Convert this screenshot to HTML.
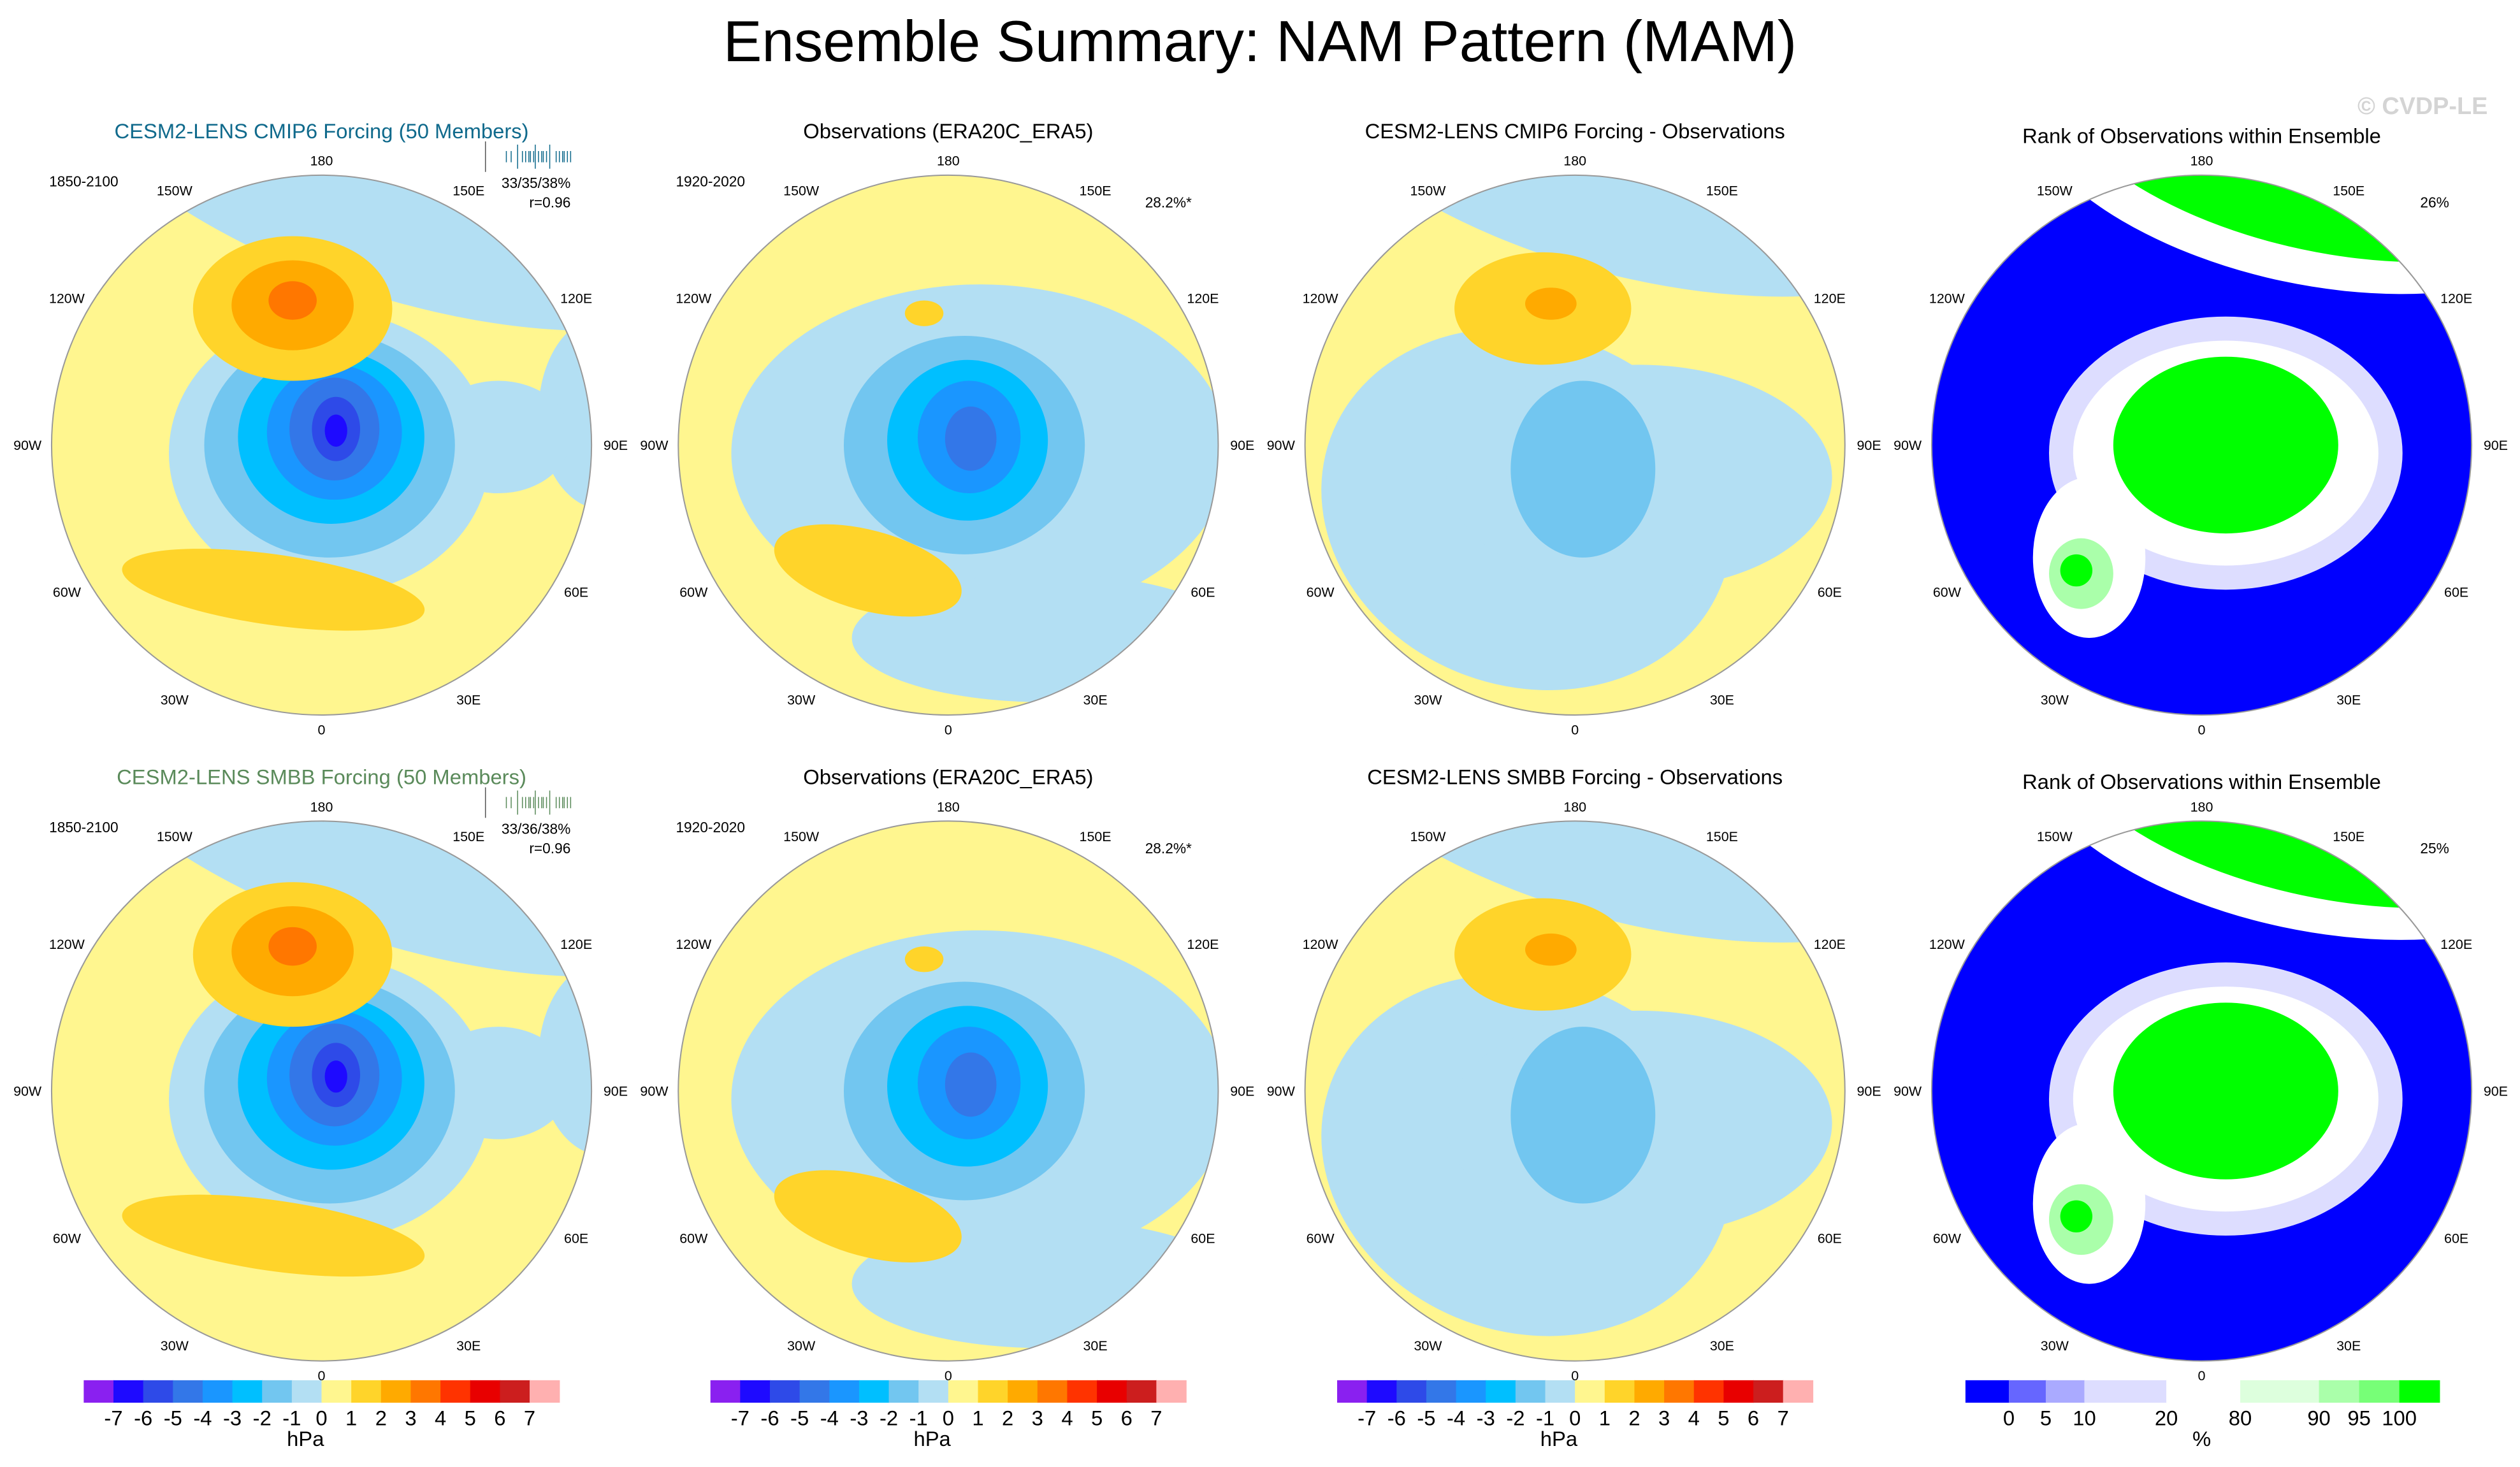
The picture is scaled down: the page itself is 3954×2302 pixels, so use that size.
<!DOCTYPE html>
<html><head><meta charset="utf-8"><style>
html,body{margin:0;padding:0;background:#fff}
svg{display:block}
text{font-family:"Liberation Sans",sans-serif}
</style></head><body>
<svg id="fig" width="3954" height="2302" viewBox="0 0 1568 913" xmlns="http://www.w3.org/2000/svg">
<rect width="1568" height="913" fill="#fff"/>
<text x="784" y="38" font-size="36" text-anchor="middle">Ensemble Summary: NAM Pattern (MAM)</text>
<text x="1548" y="71" font-size="15" font-weight="bold" fill="#d4d4d4" text-anchor="end">© CVDP-LE</text>
<g id="panels"></g>
</svg>
<script>
const hpaLevels = [-7,-6,-5,-4,-3,-2,-1,0,1,2,3,4,5,6,7];
const hpaColors = ["#8a20f0","#1e0aff","#2e4ae8","#3377e8","#1a96ff","#00bfff","#72c6f0","#b3dff3","#fff68f","#ffd42a","#ffaa00","#ff7700","#ff3300","#e80000","#cc1e1e","#ffb0b0"];
const rankLabels = ["0","5","10","20","80","90","95","100"];
const rankColors = ["#0000ff","#6666ff","#aaaaff","#ddddff","#ffffff","#ddffdd","#aaffaa","#77ff77","#00ff00"];
const rankBoxW = [27,23,24,51,46,49,25,25,25];
const colX = [200,590,980,1370];
const rowY = [277,679];
const R = 168;
const lonLabels = [["180",0],["150E",30],["120E",60],["90E",90],["60E",120],["30E",150],["0",180],["30W",210],["60W",240],["90W",270],["120W",300],["150W",330]];
const Y="#fff68f",LB="#b3dff3";
const modelBlobs = [
 [60,-205,250,115,18,LB],[175,-20,40,60,0,LB],
 [5,5,100,88,0,LB],[110,-5,45,35,0,LB],
 [5,0,78,70,0,"#72c6f0"],[6,-5,58,54,0,"#00bfff"],[8,-8,42,42,0,"#1a96ff"],
 [8,-10,28,32,0,"#3377e8"],[9,-10,15,20,0,"#2e4ae8"],[9,-9,7,10,0,"#1e0aff"],
 [-18,-85,62,45,0,"#ffd42a"],[-18,-87,38,28,0,"#ffaa00"],[-18,-90,15,12,0,"#ff7700"],
 [-30,90,95,22,8,"#ffd42a"]
];
const obsBlobs = [
 [20,5,155,105,0,LB],[60,120,120,40,0,LB],
 [10,0,75,68,0,"#72c6f0"],[12,-3,50,50,0,"#00bfff"],[13,-5,32,35,0,"#1a96ff"],[14,-4,16,20,0,"#3377e8"],
 [-15,-82,12,8,0,"#ffd42a"],[-50,78,60,25,15,"#ffd42a"]
];
const diffBlobs = [
 [40,-210,230,105,15,LB],[-30,40,130,110,20,LB],[40,20,120,70,0,LB],
 [5,15,45,55,0,"#72c6f0"],
 [-20,-85,55,35,0,"#ffd42a"],[-15,-88,16,10,0,"#ffaa00"]
];
const rankBlobs = [
 [70,-195,190,95,12,"#ffffff"],[80,-205,180,85,12,"#00ff00"],
 [15,5,110,85,0,"#ddddff"],[15,5,95,70,0,"#ffffff"],[15,0,70,55,0,"#00ff00"],
 [-70,70,35,50,0,"#ffffff"],[-75,80,20,22,0,"#aaffaa"],[-78,78,10,10,0,"#00ff00"]
];
const panels = [
 {c:0,r:0,title:"CESM2-LENS CMIP6 Forcing (50 Members)",tc:"#106a8c",blobs:modelBlobs,bg:Y,left:"1850-2100",pct:"33/35/38%",rr:"r=0.96",bars:true},
 {c:1,r:0,title:"Observations (ERA20C_ERA5)",tc:"#000",blobs:obsBlobs,bg:Y,left:"1920-2020",rt:"28.2%*"},
 {c:2,r:0,title:"CESM2-LENS CMIP6 Forcing - Observations",tc:"#000",blobs:diffBlobs,bg:Y},
 {c:3,r:0,title:"Rank of Observations within Ensemble",tc:"#000",blobs:rankBlobs,bg:"#0000ff",rt:"26%",rank:true},
 {c:0,r:1,title:"CESM2-LENS SMBB Forcing (50 Members)",tc:"#5a8a5a",blobs:modelBlobs,bg:Y,left:"1850-2100",pct:"33/36/38%",rr:"r=0.96",bars:true},
 {c:1,r:1,title:"Observations (ERA20C_ERA5)",tc:"#000",blobs:obsBlobs,bg:Y,left:"1920-2020",rt:"28.2%*"},
 {c:2,r:1,title:"CESM2-LENS SMBB Forcing - Observations",tc:"#000",blobs:diffBlobs,bg:Y},
 {c:3,r:1,title:"Rank of Observations within Ensemble",tc:"#000",blobs:rankBlobs,bg:"#0000ff",rt:"25%",rank:true}
];
const NS="http://www.w3.org/2000/svg";
function mk(tag,attrs,parent){const e=document.createElementNS(NS,tag);for(const k in attrs)e.setAttribute(k,attrs[k]);if(parent)parent.appendChild(e);return e;}
const root=document.getElementById('panels');
const defs=mk('defs',{},root);
panels.forEach((p,i)=>{
 const cx=colX[p.c], cy=rowY[p.r];
 const g=mk('g',{},root);
 
 
 const cp=mk('clipPath',{id:'cp'+i},defs);
 mk('circle',{cx:cx,cy:cy,r:R},cp);
 const mg=mk('g',{'clip-path':'url(#cp'+i+')'},g);
 const bg=mk('circle',{cx:cx,cy:cy,r:R,fill:p.bg},mg);
 
 
 p.blobs.forEach(b=>{
  const e=mk('ellipse',{cx:cx+b[0],cy:cy+b[1],rx:b[2],ry:b[3],fill:b[5],transform:`rotate(${b[4]} ${cx+b[0]} ${cy+b[1]})`},mg);
  
  
 });
 const rim=mk('circle',{cx:cx,cy:cy,r:R,fill:'none',stroke:'#999','stroke-width':0.8},g);
 
 
 lonLabels.forEach(l=>{
  const a=l[1]*Math.PI/180, d=(l[1]%180===0?R+9:R+15);
  const t=mk('text',{x:cx+Math.sin(a)*d,y:cy-Math.cos(a)*d+3,'font-size':8.5,'text-anchor':'middle'},g);
  t.textContent=l[0];
  
  
 });
 const ty=cy-191+(p.rank?3:0);
 const t=mk('text',{x:cx,y:ty,'font-size':13,'text-anchor':'middle',fill:p.tc},g);
 t.textContent=p.title;
 
 
 if(p.left){const e=mk('text',{x:cx-148,y:cy-161,'font-size':9,'text-anchor':'middle'},g);e.textContent=p.left;
  
  }
 if(p.pct){const e=mk('text',{x:cx+155,y:cy-160,'font-size':9,'text-anchor':'end'},g);e.textContent=p.pct;
  
  
  const e2=mk('text',{x:cx+155,y:cy-148,'font-size':9,'text-anchor':'end'},g);e2.textContent=p.rr;
  
  }
 if(p.rt){const e=mk('text',{x:cx+(p.rank?145:137),y:cy-148,'font-size':9,'text-anchor':'middle'},g);e.textContent=p.rt;
  
  }
 if(p.bars){
  const col=p.r===0?"#106a8c":"#5a8a5a";
  mk('line',{x1:cx+102,y1:cy-189,x2:cx+102,y2:cy-170,stroke:'#555','stroke-width':0.6},g);
  [115,118,122,125,127,129,130,132,133,135,137,138,140,142,146,148,150,151,153,155].forEach(x=>{
   const tall=(x===122||x===133||x===142);
   const l=mk('line',{x1:cx+x,y1:cy-(tall?187:183),x2:cx+x,y2:cy-(tall?172:176),stroke:col,'stroke-width':0.6},g);
   
   
  });
 }
});
for(let c=0;c<3;c++){
 const g=mk('g',{},root);
 
 
 const x0=colX[c]-148, w=18.5;
 hpaColors.forEach((col,k)=>{
  const r=mk('rect',{x:x0+k*w,y:859,width:w+0.3,height:14,fill:col},g);
  
  
 });
 hpaLevels.forEach((v,k)=>{
  const t=mk('text',{x:x0+(k+1)*w,y:887,'font-size':13,'text-anchor':'middle'},g);
  t.textContent=v;
  
  
 });
 const u=mk('text',{x:colX[c]-10,y:900,'font-size':13,'text-anchor':'middle'},g);u.textContent='hPa';
 
 
}
{
 const g=mk('g',{},root);
 
 
 let x=1223; const edges=[];
 rankColors.forEach((col,k)=>{
  const r=mk('rect',{x:x,y:859,width:rankBoxW[k]+0.3,height:14,fill:col},g);
  
  
  x+=rankBoxW[k]; edges.push(x);
 });
 rankLabels.forEach((v,k)=>{
  const t=mk('text',{x:edges[k],y:887,'font-size':13,'text-anchor':'middle'},g);
  t.textContent=v;
  
  
 });
 const u=mk('text',{x:1370,y:900,'font-size':13,'text-anchor':'middle'},g);u.textContent='%';
 
 
}
</script>
</body></html>
